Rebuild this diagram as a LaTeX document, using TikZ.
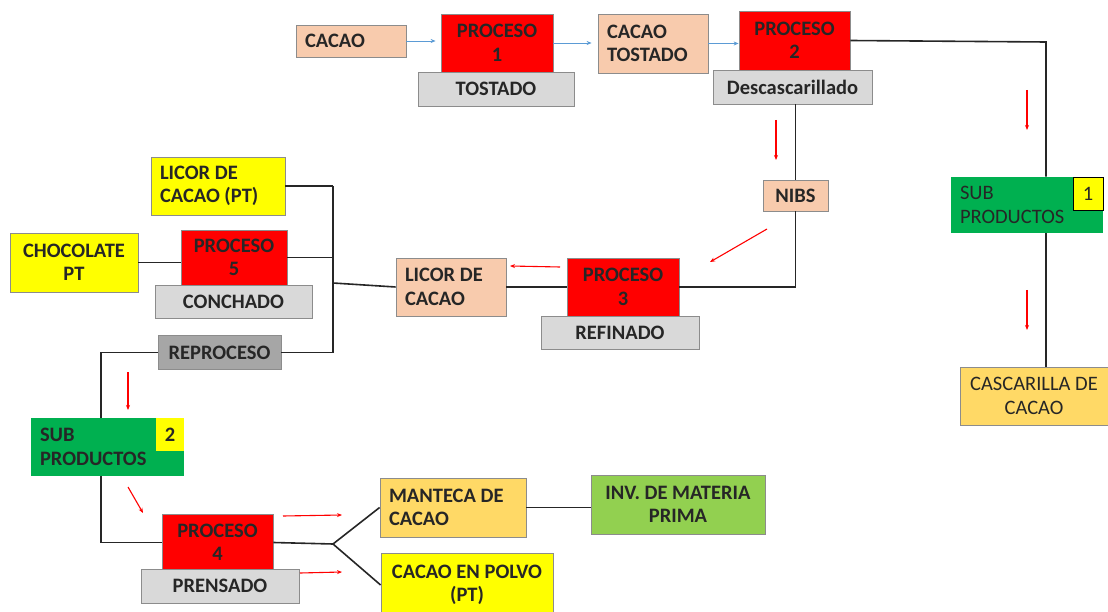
\documentclass[tikz,border=0pt]{standalone}
\usepackage{fontspec}
\setmainfont{Carlito}
\usetikzlibrary{arrows.meta}

\definecolor{durazno}{HTML}{F8CBAD}
\definecolor{rojo}{HTML}{FF0000}
\definecolor{gris}{HTML}{D9D9D9}
\definecolor{grisosc}{HTML}{A6A6A6}
\definecolor{verde}{HTML}{00B050}
\definecolor{verdecl}{HTML}{92D050}
\definecolor{amarillo}{HTML}{FFFF00}
\definecolor{ocre}{HTML}{FFD966}
\definecolor{flechazul}{HTML}{5B9BD5}

\begin{document}
\begin{tikzpicture}[x=1pt, y=-1pt,
  caja/.style={draw=black!45, line width=.8pt, inner sep=0pt, align=center,
    font=\fontsize{20.5}{23.5}\selectfont\bfseries, text=black!85},
  izq/.style={align=flush left, inner xsep=9pt},
  linea/.style={line width=1.6pt, black!85},
  azul/.style={flechazul, line width=.8pt, -{Stealth[length=5pt,width=4pt]}},
  roja/.style={rojo, line width=1.1pt, -{Stealth[length=5pt,width=4pt]}}]
  \useasboundingbox (0,0) rectangle (1108,612);

  \node[caja, izq, fill=durazno, minimum width=110pt, minimum height=32pt, text width=92pt] (cacao) at (351,41) {CACAO};
  \node[caja, fill=rojo, minimum width=112pt, minimum height=58pt] (p1) at (497,43) {PROCESO\\1};
  \node[caja, fill=gris, minimum width=156pt, minimum height=34pt] (tostado) at (496,89) {TOSTADO};
  \node[caja, izq, fill=durazno, minimum width=110pt, minimum height=59pt, text width=92pt] (cacaot) at (653,43.5) {CACAO\\TOSTADO};
  \node[caja, fill=rojo, minimum width=111pt, minimum height=59pt] (p2) at (794.5,40.5) {PROCESO\\2};
  \node[caja, fill=gris, minimum width=159pt, minimum height=34pt] (desc) at (792.5,87) {Descascarillado};

  \node[caja, izq, fill=verde, draw=none, minimum width=152pt, minimum height=56pt, text width=134pt,
    font=\fontsize{20.5}{23.5}\selectfont] (sub1) at (1027,205) {SUB\\PRODUCTOS};
  \node[caja, fill=amarillo, draw=black, minimum width=30pt, minimum height=33pt,
    font=\fontsize{20.5}{23.5}\selectfont] (num1) at (1088,193.5) {1};
  \node[caja, fill=ocre, minimum width=148pt, minimum height=58pt, font=\fontsize{20.5}{23.5}\selectfont] (casc) at (1034,396) {CASCARILLA DE\\CACAO};

  \node[caja, fill=durazno, minimum width=65pt, minimum height=31pt] (nibs) at (795.5,195.5) {NIBS};
  \node[caja, fill=rojo, minimum width=112pt, minimum height=58pt] (p3) at (623,287) {PROCESO\\3};
  \node[caja, fill=gris, minimum width=158pt, minimum height=33pt] (ref) at (620,332.5) {REFINADO};
  \node[caja, izq, fill=durazno, minimum width=110pt, minimum height=58pt, text width=92pt] (licor) at (451,287) {LICOR DE\\CACAO};

  \node[caja, izq, fill=amarillo, minimum width=134pt, minimum height=58pt, text width=116pt] (licorpt) at (218,186) {LICOR DE\\CACAO (PT)};
  \node[caja, fill=rojo, minimum width=106pt, minimum height=55pt] (p5) at (234,257.5) {PROCESO\\5};
  \node[caja, fill=gris, minimum width=157pt, minimum height=33pt] (conch) at (233.5,301.5) {CONCHADO};
  \node[caja, fill=amarillo, minimum width=128pt, minimum height=59pt] (choc) at (74,262.5) {CHOCOLATE\\PT};
  \node[caja, fill=grisosc, minimum width=123pt, minimum height=34pt] (repro) at (219.5,352.5) {REPROCESO};

  \node[caja, izq, fill=verde, draw=none, minimum width=153pt, minimum height=58pt, text width=135pt] (sub2) at (107.5,447) {SUB\\PRODUCTOS};
  \node[caja, fill=amarillo, draw=none, minimum width=28pt, minimum height=33pt] (num2) at (170,434.5) {2};
  \node[caja, fill=rojo, minimum width=111pt, minimum height=57pt] (p4) at (217.5,542.5) {PROCESO\\4};
  \node[caja, fill=gris, minimum width=158pt, minimum height=34pt] (prens) at (220,586) {PRENSADO};
  \node[caja, izq, fill=ocre, minimum width=146pt, minimum height=59pt, text width=128pt] (mant) at (453,507.5) {MANTECA DE\\CACAO};
  \node[caja, fill=amarillo, minimum width=172pt, minimum height=64pt] (polvo) at (467,585) {CACAO EN POLVO\\(PT)};
  \node[caja, fill=verdecl, minimum width=174pt, minimum height=59pt] (inv) at (678,504.5) {INV. DE MATERIA\\PRIMA};

  \coordinate (c1) at (1046,42);
  \coordinate (c2) at (333,283);
  \coordinate (c3) at (101,447);
  \coordinate (c4) at (333,544);

  \draw[azul, shorten >=5pt] (cacao) -- (cacao -| p1.west);
  \draw[azul, shorten >=6pt] (p1) -- (p1 -| cacaot.west);
  \draw[azul] (cacaot) -- (cacaot -| p2.west);

  \draw[linea] (p2.east) -- (c1) -- (c1 |- sub1.north);
  \draw[linea] (c1 |- sub1.south) -- (c1 |- casc.north);
  \draw[linea] (nibs.north) -- (nibs.north |- desc.south);
  \draw[linea] (nibs.south) |- (p3.east);
  \draw[linea] (p3.west) -- (licor.east);
  \draw[linea] (licor.west) -- (c2);
  \draw[linea] (c2 |- licorpt.east) -- (c2 |- repro.east);
  \draw[linea] (licorpt.east) -- (licorpt.east -| c2);
  \draw[linea] (p5.east) -- (p5.east -| c2);
  \draw[linea] (repro.east) -- (repro.east -| c2);
  \draw[linea] (choc.east) -- (p5.west |- choc.east);
  \draw[linea] (repro.west) -| (c3 |- sub2.north);
  \draw[linea] (c3 |- sub2.south) |- (p4.west);
  \draw[linea] (p4.east) -- (c4) -- (mant.west);
  \draw[linea] (c4) -- (polvo.west);
  \draw[linea] (mant.east) -- (mant.east -| inv.west);

  \draw[roja] (1027,90) -- (1027,130);
  \draw[roja] (1027,290) -- (1027,330);
  \draw[roja] (776,120) -- (776,160);
  \draw[roja] (767,229) -- (710,262);
  \draw[roja] (560,267) -- (510,266);
  \draw[roja] (128,372) -- (128,410);
  \draw[roja] (128,487) -- (143,513);
  \draw[roja] (283,516) -- (342,515);
  \draw[roja] (300,573) -- (342,572);
\end{tikzpicture}
\end{document}
